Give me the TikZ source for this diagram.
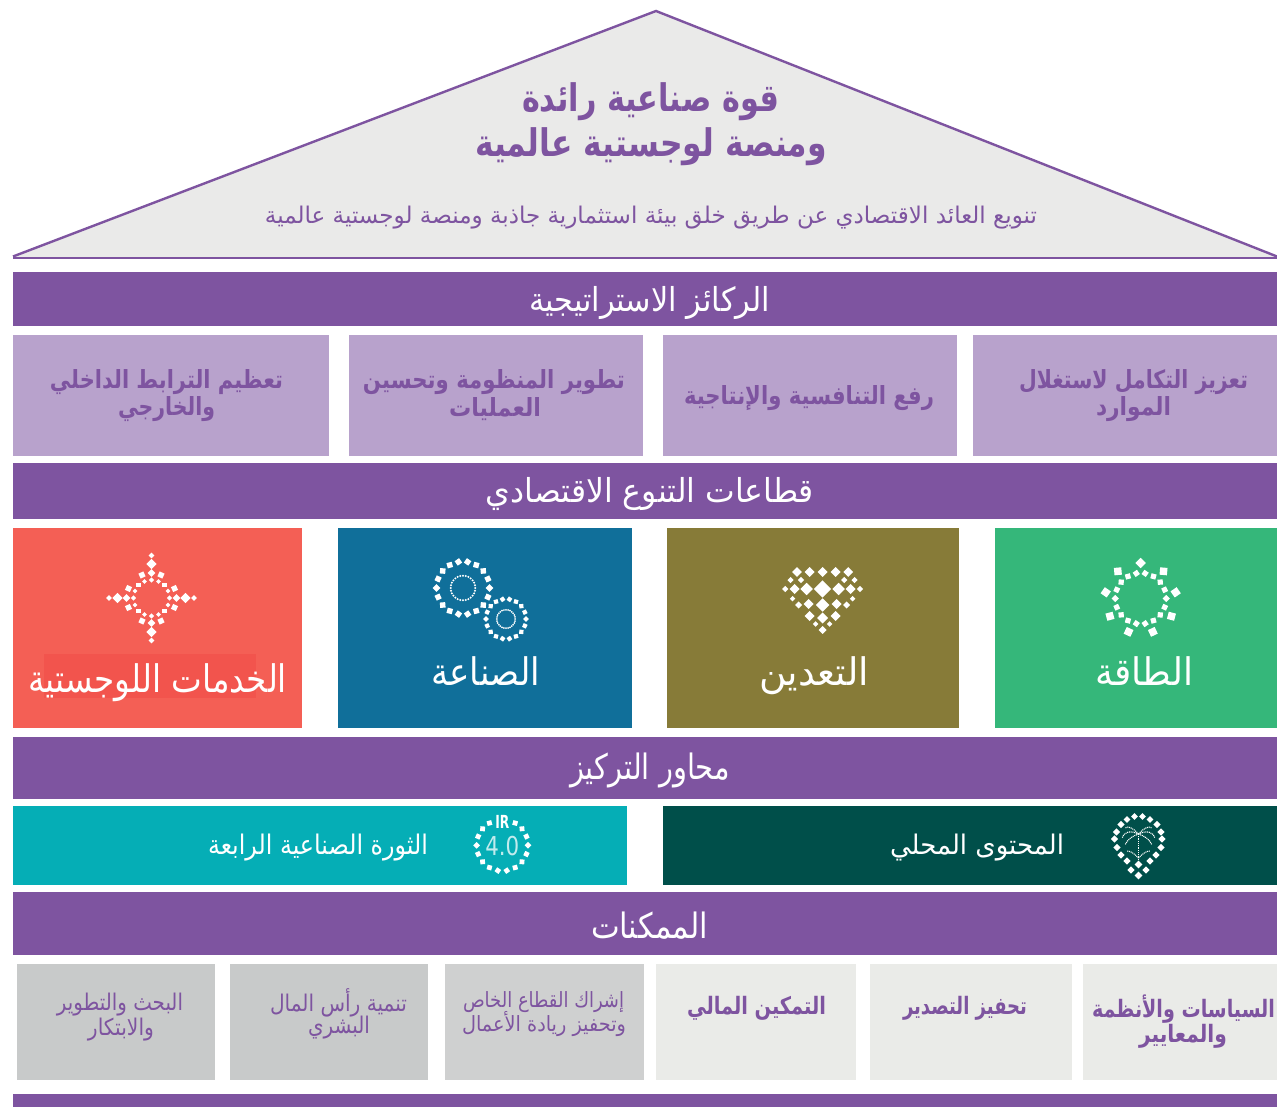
\documentclass[tikz,border=0pt]{standalone}
\usepackage{fontspec}
\usepackage{graphicx}
\TeXXeTstate=1
\newfontfamily\arfont[Script=Arabic]{DejaVu Sans}
\newfontfamily\arbold[Script=Arabic]{DejaVu Sans Bold}
\newfontfamily\latn{DejaVu Sans}
\definecolor{purp}{HTML}{7E54A0}
\definecolor{lilac}{HTML}{B8A2CC}
\definecolor{roofc}{HTML}{EAEAE9}
\definecolor{coral}{HTML}{F45F55}
\definecolor{coralb}{HTML}{F2544D}
\definecolor{bluec}{HTML}{106F9A}
\definecolor{olive}{HTML}{877B38}
\definecolor{greenc}{HTML}{35B77A}
\definecolor{tealc}{HTML}{05AEB6}
\definecolor{deepg}{HTML}{004F4A}
\definecolor{lgray}{HTML}{EAEBE8}
\definecolor{mgray}{HTML}{CFD0D0}
\definecolor{dgray}{HTML}{C8CACA}
\tikzset{lbl/.style={inner sep=0pt,outer sep=0pt,anchor=center}}
% name, x, y, ink width, size, font, colour, text
\newcommand{\ArTxt}[8]{\node[lbl,text=#7] (#1) at (#2,#3) {\resizebox{#4pt}{\height}{#6\fontsize{#5}{#5}\selectfont #8}};}
% diamond/square: x y half-side rotation
\newcommand{\Dot}[4]{\fill[white,shift={({#1},{#2})},rotate=#4] (-#3,-#3) rectangle (#3,#3);}
\begin{document}
\begin{tikzpicture}[x=1pt,y=-1pt]
\useasboundingbox (0,0) rectangle (1277,1107);
% roof
\fill[roofc] (656,11) -- (1277,257) -- (13,257) -- cycle;
\draw[purp,line width=2.4pt,line join=miter] (1277,256.5) -- (656,11) -- (13,256.5);
\fill[purp] (13,257) rectangle (1277,259.5);
% bars
\foreach \a/\b in {272/326,463/519,737/799,892/955,1094/1107}{\fill[purp] (13,\a) rectangle (1277,\b);}
% pillars
\foreach \a/\b in {13/329,349/643,663/957,973/1277}{\fill[lilac] (\a,335) rectangle (\b,456);}
% sectors
\fill[coral] (13,528) rectangle (302,728);
\fill[coralb] (44,654) rectangle (256,698);
\fill[bluec] (338,528) rectangle (632,728);
\fill[olive] (667,528) rectangle (959,728);
\fill[greenc] (995,528) rectangle (1277,728);
% focus
\fill[tealc] (13,806) rectangle (627,885);
\fill[deepg] (663,806) rectangle (1277,885);
% enablers
\fill[dgray] (17,964) rectangle (215,1080);
\fill[dgray] (230,964) rectangle (428,1080);
\fill[mgray] (445,964) rectangle (644,1080);
\fill[lgray] (656,964) rectangle (856,1080);
\fill[lgray] (870,964) rectangle (1072,1080);
\fill[lgray] (1083,964) rectangle (1277,1080);
% texts
\ArTxt{t1}{650.5}{101.5}{257}{38}{\arbold}{purp}{\beginR قوة صناعية رائدة\endR}
\ArTxt{t2}{651}{146.5}{352}{38}{\arbold}{purp}{\beginR ومنصة لوجستية عالمية\endR}
\ArTxt{t3}{651}{218}{772}{23}{\arfont}{purp}{\beginR تنويع العائد الاقتصادي عن طريق خلق بيئة استثمارية جاذبة ومنصة لوجستية عالمية\endR}
\ArTxt{b1}{649.5}{303}{241}{33}{\arfont}{white}{\beginR الركائز الاستراتيجية\endR}
\ArTxt{p1a}{1133.5}{382}{229}{25}{\arbold}{purp}{\beginR تعزيز التكامل لاستغلال\endR}
\ArTxt{p1b}{1133.5}{409}{75}{25}{\arbold}{purp}{\beginR الموارد\endR}
\ArTxt{p2}{809}{398}{250}{25}{\arbold}{purp}{\beginR رفع التنافسية والإنتاجية\endR}
\ArTxt{p3a}{494}{382}{262}{25}{\arbold}{purp}{\beginR تطوير المنظومة وتحسين\endR}
\ArTxt{p3b}{495}{409}{92}{25}{\arbold}{purp}{\beginR العمليات\endR}
\ArTxt{p4a}{166.5}{382}{233}{25}{\arbold}{purp}{\beginR تعظيم الترابط الداخلي\endR}
\ArTxt{p4b}{166.5}{409}{97}{25}{\arbold}{purp}{\beginR والخارجي\endR}
\ArTxt{b2}{650}{494}{328}{33}{\arfont}{white}{\beginR قطاعات التنوع الاقتصادي\endR}
\ArTxt{s1}{1144}{671}{98}{38}{\arfont}{white}{\beginR الطاقة\endR}
\ArTxt{s2}{814}{676}{110}{38}{\arfont}{white}{\beginR التعدين\endR}
\ArTxt{s3}{485.5}{671}{109}{38}{\arfont}{white}{\beginR الصناعة\endR}
\ArTxt{s4}{157.5}{683}{259}{38}{\arfont}{white}{\beginR الخدمات اللوجستية\endR}
\ArTxt{b3}{650}{770}{160}{35}{\arfont}{white}{\beginR محاور التركيز\endR}
\ArTxt{f1}{977}{848}{174}{27}{\arfont}{white}{\beginR المحتوى المحلي\endR}
\ArTxt{f2}{318}{848}{220}{27}{\arfont}{white}{\beginR الثورة الصناعية الرابعة\endR}
\ArTxt{b4}{649.5}{926}{117}{35}{\arfont}{white}{\beginR الممكنات\endR}
\ArTxt{e1a}{1183.5}{1009}{183}{24}{\arbold}{purp}{\beginR السياسات والأنظمة\endR}
\ArTxt{e1b}{1183}{1036}{88}{24}{\arbold}{purp}{\beginR والمعايير\endR}
\ArTxt{e2}{965}{1008}{124}{24}{\arbold}{purp}{\beginR تحفيز التصدير\endR}
\ArTxt{e3}{756.5}{1008}{139}{24}{\arbold}{purp}{\beginR التمكين المالي\endR}
\ArTxt{e4a}{543.5}{1002}{161}{21}{\arfont}{purp}{\beginR إشراك القطاع الخاص\endR}
\ArTxt{e4b}{544}{1024}{164}{21}{\arfont}{purp}{\beginR وتحفيز ريادة الأعمال\endR}
\ArTxt{e5a}{338.5}{1003}{137}{23}{\arfont}{purp}{\beginR تنمية رأس المال\endR}
\ArTxt{e5b}{339}{1028}{62}{23}{\arfont}{purp}{\beginR البشري\endR}
\ArTxt{e6a}{120}{1005}{126}{23}{\arfont}{purp}{\beginR البحث والتطوير\endR}
\ArTxt{e6b}{121}{1030}{66}{23}{\arfont}{purp}{\beginR والابتكار\endR}
% star icon (logistics)
\begin{scope}[shift={(151.5,598)}]
\foreach \r in {0,90,180,270}{
 \begin{scope}[rotate=\r]
  \Dot{0}{-42.5}{2}{45}\Dot{0}{-34}{3.6}{45}\Dot{0}{-25}{2.8}{45}\Dot{0}{-18}{1.9}{45}
  \Dot{-9.5}{-23}{2.7}{25}\Dot{9.5}{-23}{2.7}{-25}
  \Dot{-7}{-16.5}{1.6}{45}\Dot{7}{-16.5}{1.6}{45}
  \Dot{13}{-13}{2.3}{0}
 \end{scope}}
\end{scope}
% gears (manufacturing)
\foreach \k in {0,...,17}{\pgfmathsetmacro{\ang}{\k*20}\Dot{463+26.5*cos(\ang)}{588+26.5*sin(\ang)}{2.7}{\ang+45}}
\foreach \k in {0,...,27}{\pgfmathsetmacro{\ang}{\k*360/28}\Dot{463+12.3*cos(\ang)}{588+12.3*sin(\ang)}{0.8}{45}}
\foreach \k in {0,...,17}{\pgfmathsetmacro{\ang}{\k*20}\Dot{506+20*cos(\ang)}{619+20*sin(\ang)}{2.1}{\ang+45}}
\foreach \k in {0,...,27}{\pgfmathsetmacro{\ang}{\k*360/28}\Dot{506+9.2*cos(\ang)}{619+9.2*sin(\ang)}{0.7}{45}}
% diamond icon (mining)
\begin{scope}[shift={(822.6,0)}]
\foreach \xx/\yy/\ss in {0/572/3.5,13/572/3.5,-13/572/3.5,25.6/572/3.5,-25.6/572/3.5,
 21.6/580/2.2,-21.6/580/2.2,32/580/2.2,-32/580/2.2,
 0/589/6.1,16/589/4.4,-16/589/4.4,28/589/3.6,-28/589/3.6,37.4/589/2.2,-37.4/589/2.2,
 30/598.7/1.9,-30/598.7/1.9,
 0/605/4.7,14/604/3.6,-14/604/3.6,24/605/2.5,-24/605/2.5,
 13/616/3.6,-13/616/3.6,0/618/3.9,
 7/624/2,-7/624/2,0/630/2.8}{\Dot{\xx}{\yy}{\ss}{45}}
\end{scope}
% sun icon (energy)
\foreach \k in {0,...,8}{\pgfmathsetmacro{\ang}{\k*40}\Dot{1140.7+35.5*sin(\ang)}{598.5-35.5*cos(\ang)}{3.7}{\ang+45}}
\foreach \k in {0,...,17}{\pgfmathsetmacro{\ang}{\k*20+10}\Dot{1140.7+25.5*sin(\ang)}{598.5-25.5*cos(\ang)}{2.6}{\ang+45}}
% IR 4.0 icon
\foreach \k in {1,...,16}{\pgfmathsetmacro{\ang}{\k*20+10}\Dot{502.3+25.7*sin(\ang)}{845.3-25.7*cos(\ang)}{2.4}{\ang+45}}
\node[lbl,text=white,font=\latn\bfseries\fontsize{18}{18}\selectfont] (irt) at (502.3,822.3) {\resizebox{14pt}{\height}{IR}};
\node[lbl,text=white!75!tealc,font=\latn\fontsize{26}{26}\selectfont] (irn) at (502.3,846) {\resizebox{34pt}{\height}{4.0}};
% palm icon
\foreach \xx/\yy/\ss in {1134.5/816.5/2.4,1142.5/816.5/2.4,1127/819.5/2.4,1150/819.5/2.4,1121/824.5/2.5,1157/824.5/2.5,1116.5/832/2.5,1161/832/2.5,1114.5/839/2.5,1162/839/2.5,1117/847.5/2.5,1161/847.5/2.5,1121/855/2.5,1156/855/2.5,1127/861/2.5,1150/861/2.5,1138.5/864.5/2.8,1131/870/2.6,1146/870/2.6,1138.5/875.5/2.8}{\Dot{\xx}{\yy}{\ss}{45}}
\begin{scope}[white,line width=1.1pt,dash pattern=on 1pt off 0.8pt]
\draw (1138.5,834) -- (1138.5,860);
\draw (1138.5,834) .. controls (1130,830) and (1124,832) .. (1122,838);
\draw (1138.5,834) .. controls (1147,830) and (1153,832) .. (1155,838);
\draw (1138.5,834) .. controls (1132,827) and (1128,826) .. (1125,828);
\draw (1138.5,834) .. controls (1145,827) and (1149,826) .. (1152,828);
\draw (1138.5,834) .. controls (1132,836) and (1127,840) .. (1125,845);
\draw (1138.5,834) .. controls (1145,836) and (1150,840) .. (1152,845);
\draw (1138.5,858) .. controls (1134,853) and (1130,851) .. (1127,851);
\draw (1138.5,858) .. controls (1143,853) and (1147,851) .. (1150,851);
\end{scope}
\end{tikzpicture}
\end{document}
